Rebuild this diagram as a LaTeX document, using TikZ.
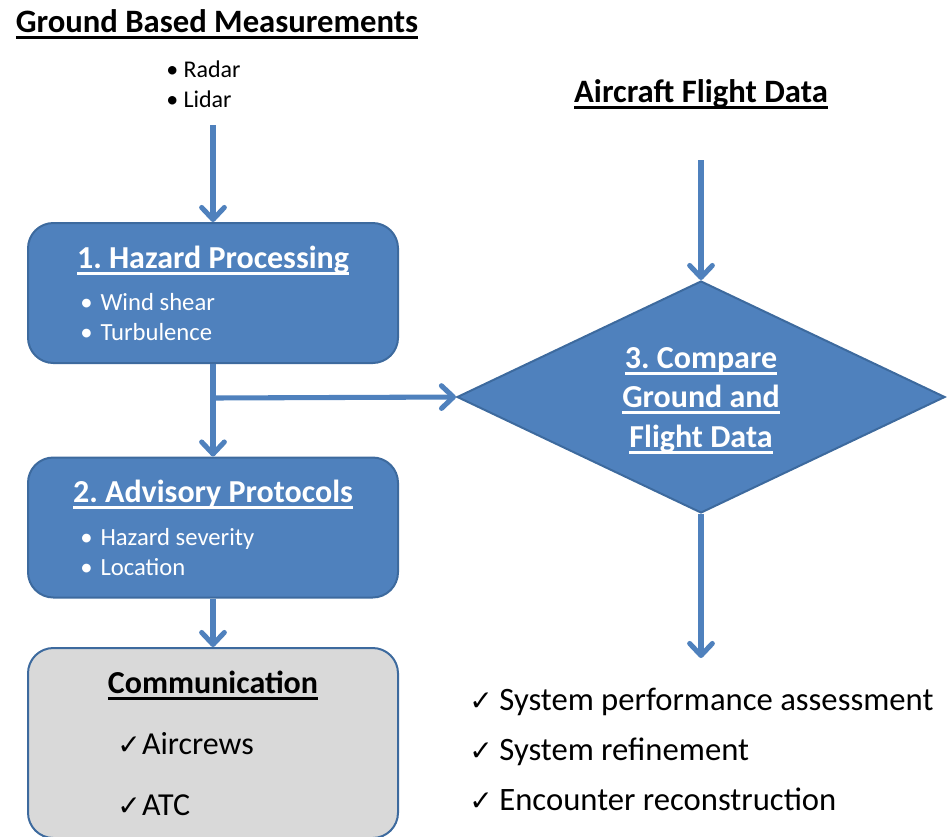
\documentclass[tikz,border=0pt]{standalone}
\usepackage{fontspec}
\setmainfont{Carlito}
\newfontfamily\checkfont{DejaVu Sans}
\frenchspacing
\usetikzlibrary{positioning}
\usetikzlibrary{shapes.geometric,arrows.meta}
\definecolor{flowBlue}{HTML}{4F81BD}
\definecolor{flowEdge}{HTML}{3D6A9E}
\definecolor{commGray}{HTML}{D9D9D9}
\tikzset{
    flowBox/.style={
		rectangle, rounded corners=19pt, fill=flowBlue, draw=flowEdge, line width=1.5pt,
		minimum width=277.5pt, minimum height=105pt, inner sep=0pt
	}
}
\tikzset{
    compareShape/.style={
		diamond, fill=flowBlue, draw=flowEdge, line width=1.5pt,
		minimum width=366pt, minimum height=174pt, inner sep=0pt
	}
}
\tikzset{
    flowArrow/.style={
		draw=flowBlue, line width=3.8pt,
		-{Straight Barb[length=9pt,width=17pt,round]}
	}
}
\tikzset{
    heading/.style={inner sep=0pt, font=\fontsize{24.5}{28}\selectfont\bfseries},
    boxTitle/.style={inner sep=0pt, text=white, font=\fontsize{24}{28}\selectfont\bfseries},
    bulletText/.style={inner sep=0pt, font=\fontsize{18.5}{22}\selectfont},
    checkText/.style={inner sep=0pt, font=\fontsize{24.5}{28}\selectfont}
}
\newcommand{\tick}{{\checkfont\fontsize{21}{24}\selectfont\char"2713}}
\newcommand{\ulText}[1]{\setbox0\hbox{#1}\rlap{\rule[-5pt]{\wd0}{2pt}}\box0}

\begin{document}
\begin{tikzpicture}[x=0.75pt,y=-0.75pt]
			\useasboundingbox (0,0) rectangle (948,836);
			% ground side
			\node[heading, anchor=base] (groundTitle) at (217,32) {\ulText{Ground Based Measurements}};
			\node[bulletText, font=\fontsize{18}{22}\selectfont, anchor=base west] (radar) at (166,77) {\textbullet\hspace{4pt}Radar};
			\node[bulletText, font=\fontsize{18}{22}\selectfont, anchor=base west] (lidar) at (166,107) {\textbullet\hspace{4pt}Lidar};
			\coordinate (groundIn) at (213,125);
			\node[flowBox] (hazardBox) at (213,293) {};
			\node[boxTitle, anchor=base] (hazardTitle) at (213,268) {\ulText{1. Hazard Processing}};
			\node[bulletText, text=white, anchor=base west] (windShear) at (80,310) {\textbullet\hspace{6pt}Wind shear};
			\node[bulletText, text=white, anchor=base west] (turbulence) at (80,340) {\textbullet\hspace{6pt}Turbulence};
			\node[flowBox] (advisoryBox) at (213,527.5) {};
			\node[boxTitle, anchor=base] (advisoryTitle) at (213,502) {\ulText{2. Advisory Protocols}};
			\node[bulletText, text=white, anchor=base west] (severity) at (80,545) {\textbullet\hspace{6pt}Hazard severity};
			\node[bulletText, text=white, anchor=base west] (location) at (80,575) {\textbullet\hspace{6pt}Location};
			\node[flowBox, fill=commGray, minimum height=142.5pt] (commBox) at (213,743) {};
			\node[boxTitle, text=black, anchor=base] (commTitle) at (213,693) {\ulText{Communication}};
			\node[checkText, font=\fontsize{24}{28}\selectfont, anchor=base west] (aircrews) at (117,754) {\tick\hspace{1pt}Aircrews};
			\node[checkText, font=\fontsize{24}{28}\selectfont, anchor=base west] (atc) at (117,815) {\tick\hspace{1pt}ATC};
			% flight side
			\node[heading, anchor=base] (flightTitle) at (701,102) {\ulText{Aircraft Flight Data}};
			\coordinate (flightIn) at (701,160);
			\node[compareShape] (compareBox) at (701,397) {};
			\node[boxTitle, anchor=base] (compareA) at (701,368) {\ulText{3. Compare}};
			\node[boxTitle, anchor=base] (compareB) at (701,407) {\ulText{Ground and}};
			\node[boxTitle, anchor=base] (compareC) at (701,447) {\ulText{Flight Data}};
			\coordinate (resultIn) at (701,658);
			\node[checkText, anchor=base west] (performance) at (469,710) {\tick\hspace{5pt}System performance assessment};
			\node[checkText, anchor=base west] (refinement) at (469,760) {\tick\hspace{5pt}System refinement};
			\node[checkText, anchor=base west] (encounter) at (469,810) {\tick\hspace{5pt}Encounter reconstruction};
			% connectors
			\coordinate (splitPoint) at (213,398);
			\draw[flowArrow] (groundIn) -- (hazardBox.north);
			\draw[flowArrow] (hazardBox.south) -- (advisoryBox.north);
			\draw[flowArrow] (splitPoint) -- (compareBox.west);
			\draw[flowArrow] (advisoryBox.south) -- (commBox.north);
			\draw[flowArrow] (flightIn) -- (compareBox.north);
			\draw[flowArrow] (compareBox.south) -- (resultIn);
		\end{tikzpicture}
\end{document}
